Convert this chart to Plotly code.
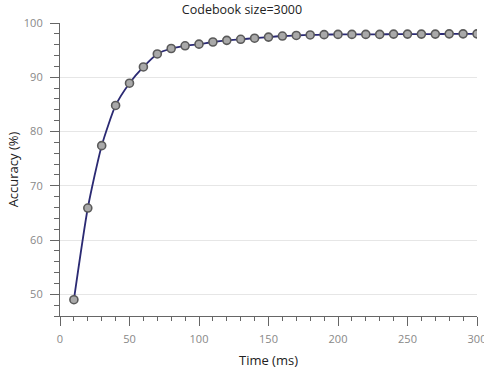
import plotly.graph_objects as go

time_ms = [10, 20, 30, 40, 50, 60, 70, 80, 90, 100, 110, 120, 130, 140, 150,
           160, 170, 180, 190, 200, 210, 220, 230, 240, 250, 260, 270, 280, 290, 300]
accuracy = [49.0, 65.9, 77.4, 84.8, 88.9, 91.9, 94.3, 95.3, 95.8, 96.1, 96.5, 96.8, 97.0, 97.2, 97.4,
            97.6, 97.7, 97.8, 97.85, 97.9, 97.9, 97.9, 97.9, 97.95, 97.95, 97.95, 97.95, 98.0, 98.0, 98.0]
title_text = "Codebook size=3000"
x_title = "Time (ms)"
y_title = "Accuracy (%)"

font_family = "Open Sans, Lato, sans-serif"

fig = go.Figure()
fig.add_trace(go.Scatter(
    x=time_ms, y=accuracy, mode="lines+markers",
    line=dict(color="#2b2a73", width=1.8, shape="spline", smoothing=0.6),
    marker=dict(size=8, color="#a9a9a9", line=dict(color="#5a5a5a", width=1.6)),
    showlegend=False,
))

W, H = 484, 374
fig.update_layout(
    width=W, height=H,
    margin=dict(l=60, r=7, t=23, b=58),
    paper_bgcolor="white", plot_bgcolor="white",
    font=dict(family=font_family, color="#333333"),
    title=dict(text=title_text, x=0.5, xanchor="center", y=1 - 10 / H, yanchor="middle",
               font=dict(size=12.5, color="#222222", family=font_family)),
    xaxis=dict(
        range=[0, 300], tickvals=[0, 50, 100, 150, 200, 250, 300],
        showgrid=False, zeroline=False, automargin=False,
        showline=True, linecolor="#666666", linewidth=1.2,
        ticks="outside", ticklen=9, tickcolor="#666666", tickwidth=1.2,
        minor=dict(dtick=10, ticks="outside", ticklen=4, tickcolor="#666666", tickwidth=1, showgrid=False),
        tickfont=dict(size=11, color="#888888"), ticklabelstandoff=4,
        ticklabeloverflow="allow",
        title=dict(text=x_title, font=dict(size=13, color="#222222"), standoff=10),
    ),
    yaxis=dict(
        range=[46, 100], tickvals=[50, 60, 70, 80, 90, 100],
        showgrid=True, gridcolor="#e6e6e6", gridwidth=1, zeroline=False, automargin=False,
        showline=True, linecolor="#666666", linewidth=1.2,
        ticks="outside", ticklen=9, tickcolor="#666666", tickwidth=1.2,
        minor=dict(dtick=2, tick0=0, ticks="outside", ticklen=5, tickcolor="#666666", tickwidth=1, showgrid=False),
        tickfont=dict(size=11, color="#888888"), ticklabelstandoff=5,
        title=dict(text=y_title, font=dict(size=13, color="#222222"), standoff=2),
    ),
)

# remove the browser's default 8px body margin so the figure fills the window exactly
fig.write_html("out.html", config={"displayModeBar": False},
               post_script="document.body.style.margin='0px';")
